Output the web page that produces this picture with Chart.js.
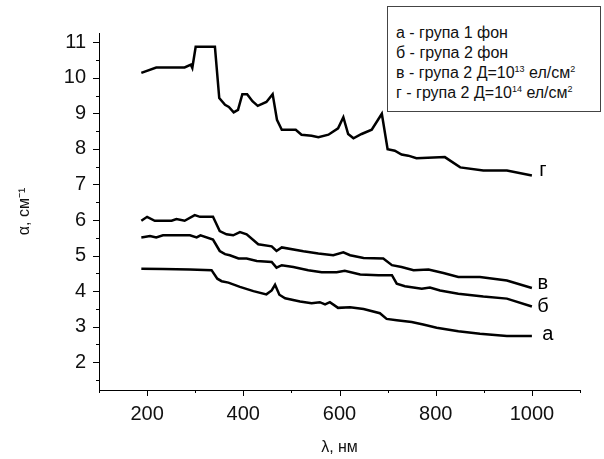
<!DOCTYPE html>
<html lang="uk">
<head>
    <meta charset="UTF-8">
    <script src="https://cdn.jsdelivr.net/npm/chart.js"></script>
    <title>Поглинання</title>
</head>
<style>
    body{
        margin: 0;
        background: #fff;
    }

    .wrap{
        position: relative;
        width: 604px;
        height: 459px;
    }

    .legend-box{
        position: absolute;
        left: 387px;
        top: 6px;
        width: 204px;
        height: 88px;
        padding: 16px 0 0 8px;
        border: 1px solid #444;
        font-family: "Liberation Sans", Arial, sans-serif;
        font-size: 16px;
        line-height: 20px;
        color: #111;
        background: #fff;
        white-space: nowrap;
    }

    .legend-box sup{
        font-size: 9px;
        line-height: 0;
        vertical-align: 6px;
    }
</style>
<body>

<div class="wrap">
    <canvas id="alphaChart" width="604" height="459"></canvas>
    <div class="legend-box">
        <div>а - група 1 фон</div>
        <div>б - група 2 фон</div>
        <div>в - група 2 Д=10<sup>13</sup> ел/см<sup>2</sup></div>
        <div>г - група 2 Д=10<sup>14</sup> ел/см<sup>2</sup></div>
    </div>
</div>

<script>
    // curve а
    const lambdaA = [188, 233, 289, 334, 346, 355, 369, 393, 421, 448, 459, 466, 475, 487, 518, 542, 559, 570, 580, 597, 622, 650, 684, 698, 719, 750, 774, 802, 847, 892, 948, 1000];
    const alphaA = [4.63, 4.62, 4.61, 4.59, 4.35, 4.28, 4.24, 4.12, 4.00, 3.91, 4.02, 4.18, 3.90, 3.80, 3.71, 3.66, 3.69, 3.63, 3.69, 3.53, 3.55, 3.50, 3.38, 3.22, 3.18, 3.13, 3.06, 2.97, 2.87, 2.80, 2.74, 2.74];

    // curve б
    const lambdaB = [188, 206, 219, 233, 289, 303, 311, 337, 351, 362, 372, 390, 407, 428, 459, 469, 480, 504, 535, 563, 594, 611, 643, 681, 709, 719, 736, 771, 788, 809, 847, 899, 948, 1000];
    const alphaB = [5.51, 5.55, 5.51, 5.57, 5.57, 5.51, 5.57, 5.45, 5.13, 5.04, 5.01, 4.92, 4.92, 4.85, 4.82, 4.66, 4.73, 4.68, 4.59, 4.53, 4.53, 4.57, 4.47, 4.45, 4.45, 4.21, 4.14, 4.07, 4.10, 4.02, 3.93, 3.85, 3.79, 3.57];

    // curve в
    const lambdaV = [188, 200, 216, 251, 261, 278, 299, 310, 337, 351, 365, 379, 393, 407, 431, 459, 469, 480, 525, 556, 587, 608, 622, 650, 691, 709, 729, 754, 785, 816, 847, 892, 948, 1000];
    const alphaV = [5.98, 6.09, 5.98, 5.98, 6.03, 5.98, 6.14, 6.09, 6.09, 5.69, 5.60, 5.57, 5.66, 5.60, 5.32, 5.26, 5.13, 5.23, 5.12, 5.06, 5.01, 5.09, 5.01, 4.93, 4.92, 4.73, 4.68, 4.59, 4.61, 4.51, 4.40, 4.40, 4.30, 4.09];

    // curve г
    const lambdaG = [188, 219, 278, 291, 294, 301, 341, 350, 362, 370, 380, 389, 398, 408, 419, 430, 448, 461, 470, 480, 509, 521, 542, 556, 577, 597, 608, 618, 629, 646, 667, 688, 700, 715, 729, 743, 760, 819, 851, 899, 948, 1000];
    const alphaG = [10.14, 10.29, 10.29, 10.37, 10.28, 10.87, 10.87, 9.43, 9.24, 9.18, 9.03, 9.10, 9.54, 9.54, 9.34, 9.21, 9.32, 9.54, 8.82, 8.54, 8.54, 8.40, 8.37, 8.33, 8.40, 8.58, 8.89, 8.42, 8.30, 8.42, 8.54, 8.99, 7.99, 7.95, 7.84, 7.81, 7.74, 7.77, 7.48, 7.39, 7.39, 7.25];

    const curveNames = ["а", "б", "в", "г"];

    const toPoints = (xs, ys) => xs.map((x, i) => ({ x: x, y: ys[i] }));

    const lineStyle = {
        borderColor: "#000",
        borderWidth: 2.5,
        pointRadius: 0,
        tension: 0,
        fill: false,
    };

    // tick marks: long at labelled values, short in between
    const tickMarks = {
        id: "tickMarks",
        afterDraw(chart) {
            const c = chart.ctx;
            const area = chart.chartArea;
            c.save();
            c.strokeStyle = "#000";
            c.lineWidth = 1;
            chart.scales.x.ticks.forEach(t => {
                const px = Math.round(chart.scales.x.getPixelForValue(t.value)) + 0.5;
                const len = t.value % 200 === 0 ? 6 : 3;
                c.beginPath();
                c.moveTo(px, area.bottom);
                c.lineTo(px, area.bottom + len);
                c.stroke();
            });
            chart.scales.y.ticks.forEach(t => {
                const py = Math.round(chart.scales.y.getPixelForValue(t.value)) + 0.5;
                const len = Number.isInteger(t.value) ? 6 : 3;
                c.beginPath();
                c.moveTo(area.left, py);
                c.lineTo(area.left - len, py);
                c.stroke();
            });
            c.restore();
        }
    };

    // letters at the right end of each curve
    const endLabels = {
        id: "endLabels",
        afterDatasetsDraw(chart) {
            const c = chart.ctx;
            const offsets = [[16, -1], [11, 0], [11, -4], [11, -5]];
            c.save();
            c.fillStyle = "#000";
            c.font = '20px "Liberation Sans", Arial, sans-serif';
            c.textAlign = "center";
            c.textBaseline = "middle";
            chart.data.datasets.forEach((ds, i) => {
                const last = ds.data[ds.data.length - 1];
                const px = chart.scales.x.getPixelForValue(last.x);
                const py = chart.scales.y.getPixelForValue(last.y);
                c.fillText(curveNames[i], px + offsets[i][0], py + offsets[i][1]);
            });
            c.restore();
        }
    };

    const ctx = document.getElementById("alphaChart").getContext("2d");
    new Chart(ctx, {
        type: "line",
        data: {
            datasets: [
                { label: curveNames[0], data: toPoints(lambdaA, alphaA), ...lineStyle },
                { label: curveNames[1], data: toPoints(lambdaB, alphaB), ...lineStyle },
                { label: curveNames[2], data: toPoints(lambdaV, alphaV), ...lineStyle },
                { label: curveNames[3], data: toPoints(lambdaG, alphaG), ...lineStyle },
            ],
        },
        options: {
            responsive: false,
            animation: false,
            layout: {
                padding: { top: 33, right: 24, left: 0, bottom: 0 },
            },
            plugins: {
                legend: { display: false },
                tooltip: { enabled: false },
            },
            scales: {
                x: {
                    type: "linear",
                    min: 100,
                    max: 1100,
                    afterFit: s => { s.height = 69; },
                    grid: { display: false, drawTicks: false },
                    border: { display: true, color: "#000", width: 1 },
                    ticks: {
                        stepSize: 100,
                        padding: 12,
                        color: "#111",
                        maxRotation: 0,
                        autoSkip: false,
                        font: { family: '"Liberation Sans", Arial, sans-serif', size: 20 },
                        callback: v => (v % 200 === 0 ? v : ""),
                    },
                    title: {
                        display: true,
                        text: "λ, нм",
                        color: "#111",
                        padding: { top: 0, bottom: 2 },
                        font: { family: '"Liberation Sans", Arial, sans-serif', size: 16 },
                    },
                },
                y: {
                    min: 1.22,
                    max: 11.26,
                    afterFit: s => { s.width = 99; },
                    grid: { display: false, drawTicks: false },
                    border: { display: true, color: "#000", width: 1 },
                    ticks: {
                        stepSize: 0.5,
                        includeBounds: false,
                        padding: 13,
                        color: "#111",
                        autoSkip: false,
                        font: { family: '"Liberation Sans", Arial, sans-serif', size: 20 },
                        callback: v => (Number.isInteger(v) ? v : ""),
                    },
                    title: {
                        display: true,
                        text: "α, см⁻¹",
                        color: "#111",
                        padding: { top: 15, bottom: 0 },
                        font: { family: '"Liberation Sans", Arial, sans-serif', size: 16 },
                    },
                },
            },
        },
        plugins: [tickMarks, endLabels],
    });
</script>

</body>
</html>
